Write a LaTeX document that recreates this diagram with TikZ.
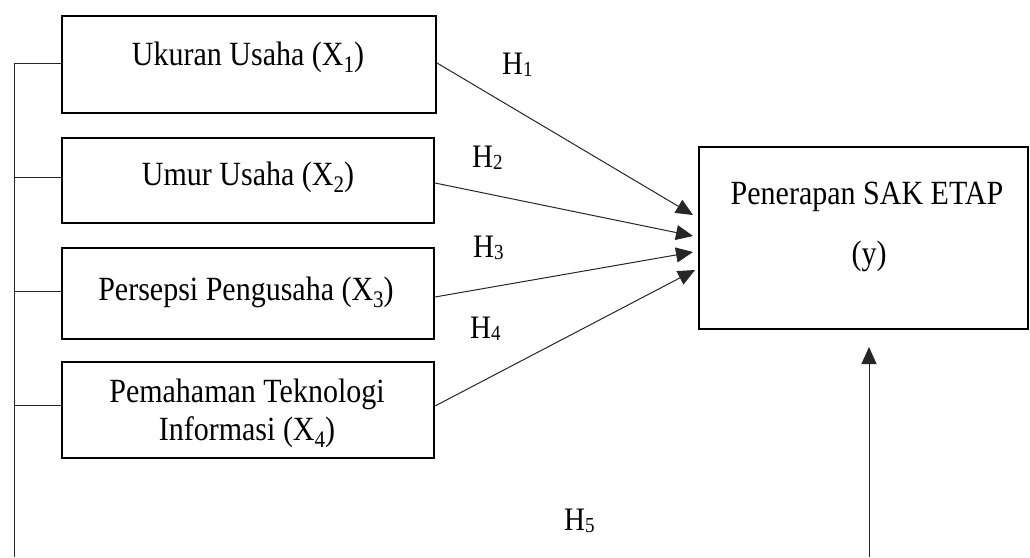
\documentclass[tikz,border=0pt]{standalone}
\usepackage{graphicx}
\usepackage{fontspec}
\setmainfont{Liberation Serif}
\usetikzlibrary{arrows.meta}
\newcommand{\xsub}[1]{\raisebox{-0.22em}{\fontsize{21}{21}\selectfont #1}}
\newcommand{\hsub}[1]{\raisebox{-0.08em}{\fontsize{19}{19}\selectfont #1}}
\newcommand{\tall}[1]{\scalebox{1}[1.13]{#1}}
\begin{document}
\begin{tikzpicture}[x=1pt,y=-1pt,
  box/.style={draw=black, line width=2pt, inner sep=0pt},
  lbl/.style={font=\fontsize{30}{36}\selectfont, inner sep=0pt, anchor=base},
  hl/.style={font=\fontsize{29}{34}\selectfont, inner sep=0pt, anchor=base west},
  link/.style={draw=black!85, line width=1pt},
  arr/.style={link, -{Triangle[length=17pt,width=15pt]}}]
\useasboundingbox (0,0) rectangle (1030,557);
% boxes
\node[box, minimum width=374pt, minimum height=97pt] (b1) at (249,64.5) {};
\node[box, minimum width=372pt, minimum height=85pt] (b2) at (248,180.5) {};
\node[box, minimum width=372pt, minimum height=91pt] (b3) at (248,293.5) {};
\node[box, minimum width=372pt, minimum height=96pt] (b4) at (248,410) {};
\node[box, minimum width=329pt, minimum height=182pt] (y) at (863.5,238) {};
% texts
\node[lbl] (t1) at (248,65) {\tall{Ukuran Usaha (X\xsub{1})}};
\node[lbl] (t2) at (248,185) {\tall{Umur Usaha (X\xsub{2})}};
\node[lbl] (t3) at (246,300) {\tall{Persepsi Pengusaha (X\xsub{3})}};
\node[lbl] (t4a) at (247,402) {\tall{Pemahaman Teknologi}};
\node[lbl] (t4b) at (247,440) {\tall{Informasi (X\xsub{4})}};
\node[lbl] (ty1) at (867,204) {\tall{Penerapan SAK ETAP}};
\node[lbl] (ty2) at (869,264) {\tall{(y)}};
% hypothesis labels
\node[hl] (h1) at (502,74) {\tall{H\hsub{1}}};
\node[hl] (h2) at (472,167) {\tall{H\hsub{2}}};
\node[hl] (h3) at (473,257) {\tall{H\hsub{3}}};
\node[hl] (h4) at (470,338) {\tall{H\hsub{4}}};
\node[hl] (h5) at (564,530) {\tall{H\hsub{5}}};
% left bracket
\coordinate (j1) at (14,63);
\coordinate (j2) at (14,177);
\coordinate (j3) at (14,291);
\coordinate (j4) at (14,405);
\coordinate (jb) at (14,557);
\draw[link] (j1) -- (jb);
\draw[link] (j1) -- (j1 -| b1.west);
\draw[link] (j2) -- (j2 -| b2.west);
\draw[link] (j3) -- (j3 -| b3.west);
\draw[link] (j4) -- (j4 -| b4.west);
% arrows
\coordinate (e1) at (693,215);
\coordinate (e2) at (693,236);
\coordinate (e3) at (693,252);
\coordinate (e4) at (695,270);
\draw[arr] ([yshift=1.5pt]b1.east) -- (e1);
\draw[arr] ([yshift=-2.5pt]b2.east) -- (e2);
\draw[arr] ([yshift=-3.5pt]b3.east) -- (e3);
\draw[arr] ([yshift=4pt]b4.east) -- (e4);
\coordinate (yb) at (869,557);
\coordinate (ye) at (869,347);
\draw[arr] (yb) -- (ye);
\end{tikzpicture}
\end{document}
